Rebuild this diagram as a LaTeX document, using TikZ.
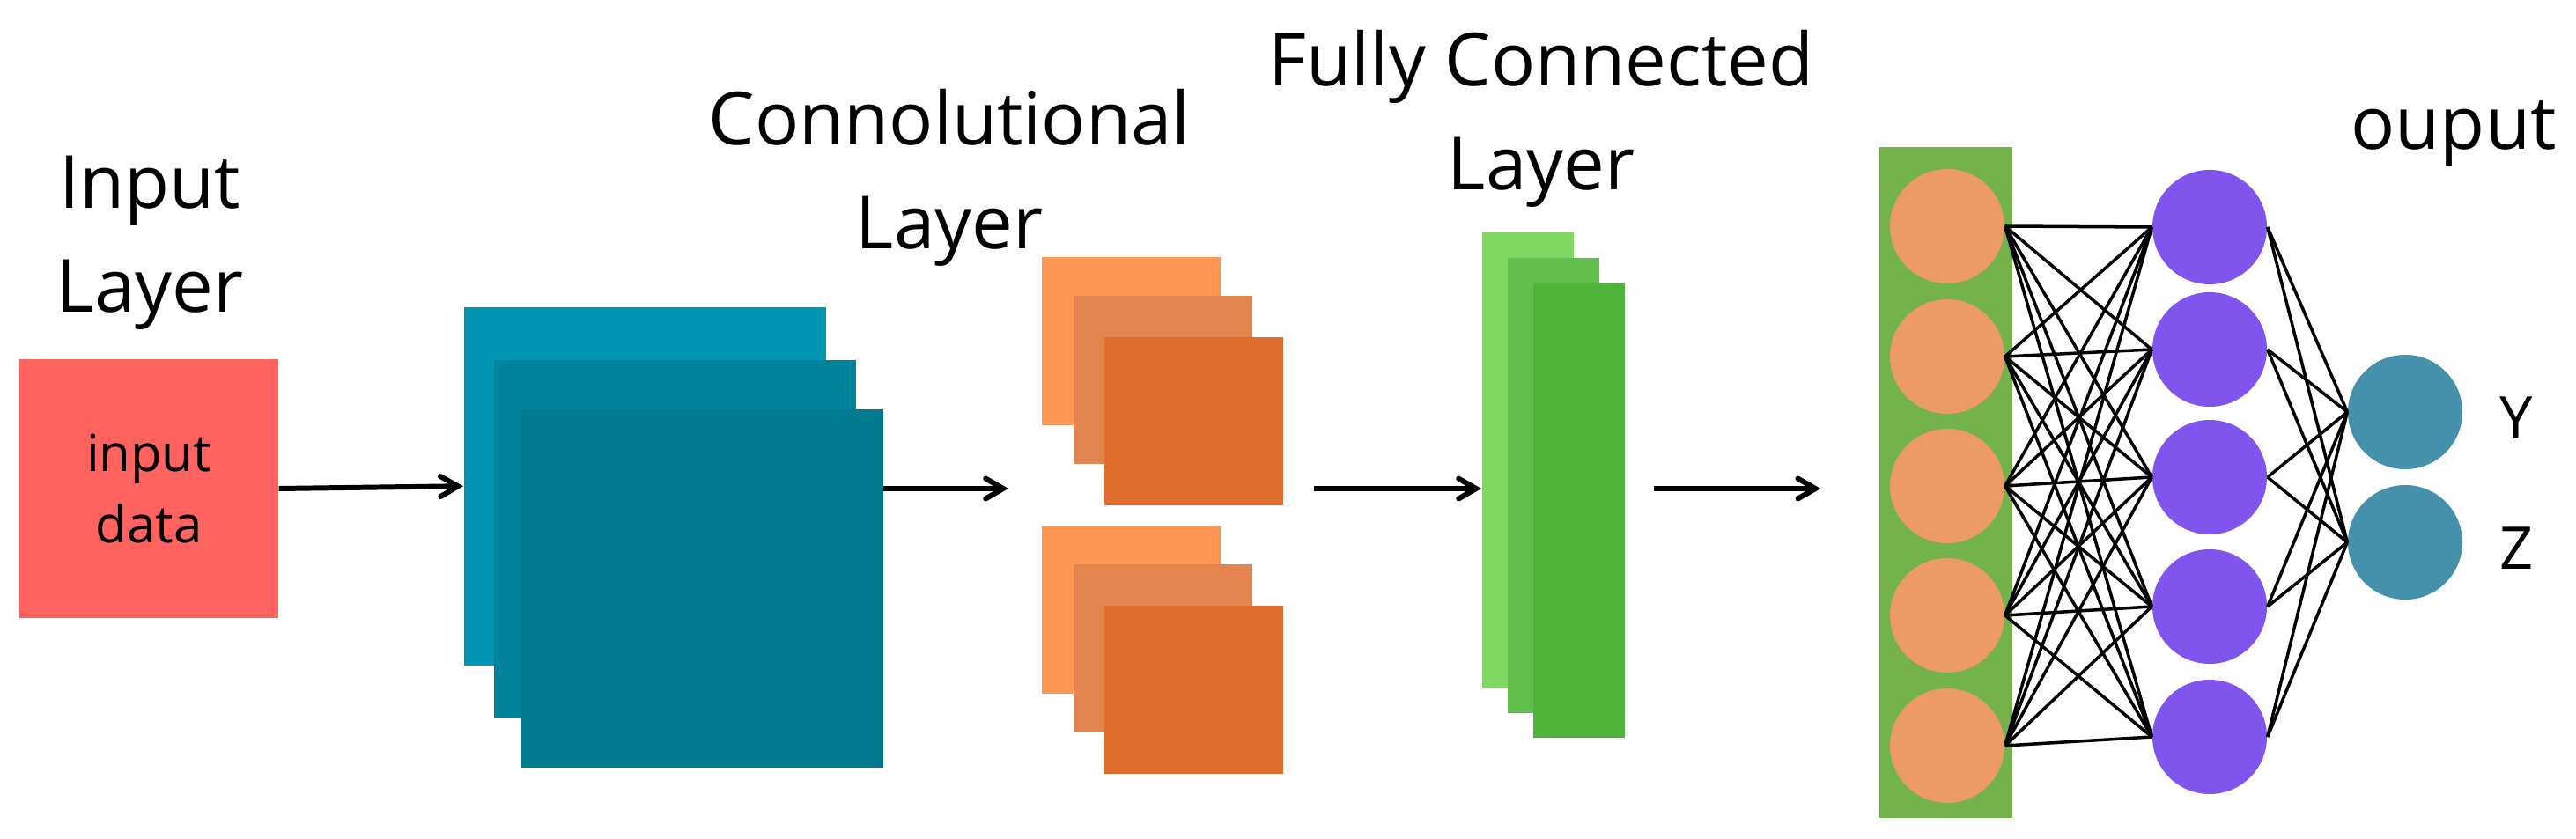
\documentclass[tikz,border=0pt]{standalone}
\usepackage{fontspec}
\setmainfont{Open Sans}
\usepackage{tikz}
\usetikzlibrary{arrows, positioning}

\definecolor{inputred}{RGB}{255,99,95}
\definecolor{blueA}{RGB}{0,150,180}
\definecolor{blueB}{RGB}{0,132,156}
\definecolor{blueC}{RGB}{2,123,145}
\definecolor{orangeA}{RGB}{255,150,84}
\definecolor{orangeB}{RGB}{228,132,78}
\definecolor{orangeC}{RGB}{222,109,46}
\definecolor{greenA}{RGB}{126,215,96}
\definecolor{greenB}{RGB}{98,191,75}
\definecolor{greenC}{RGB}{79,181,58}
\definecolor{bargreen}{RGB}{116,178,74}
\definecolor{nodeorange}{RGB}{236,155,102}
\definecolor{nodepurple}{RGB}{128,85,238}
\definecolor{nodeteal}{RGB}{69,145,171}

\begin{document}
\begin{tikzpicture}[node distance=2cm, font=\fontsize{23.7}{33.5}\selectfont]
		\tikzstyle{heading} = [align=center, inner sep=0pt]
		\tikzstyle{sheet} = [rectangle, anchor=north west, inner sep=0pt]
		\tikzstyle{conv} = [sheet, minimum width=4.11cm, minimum height=4.07cm]
		\tikzstyle{pool} = [sheet, minimum width=2.03cm, minimum height=1.91cm]
		\tikzstyle{dense} = [sheet, minimum width=1.04cm, minimum height=5.17cm]
		\tikzstyle{neuron} = [circle, minimum size=1.3cm, inner sep=0pt]
		\tikzstyle{letter} = [inner sep=0pt, font=\fontsize{19}{23}\selectfont]
		\tikzstyle{arrow} = [->,>= angle 60, line width=1.7pt]
		\tikzstyle{edge} = [line width=1pt]
		
		\useasboundingbox (0,0) rectangle (29.25,9.52);
		
		% Input layer
		\node (inp) [rectangle, fill=inputred, minimum width=2.94cm, minimum height=2.94cm, align=center, font=\fontsize{16.5}{23.2}\selectfont] at (1.69,3.97) {input\\data};
		\node (inptitle) [heading] at (1.70,6.76) {Input\\Layer};
		
		% Convolutional layer
		\node (c1) [conv, fill=blueA] at (5.26,6.04) {};
		\node (c2) [conv, fill=blueB, below right=0.60cm and 0.34cm of c1.north west] {};
		\node (c3) [conv, fill=blueC, below right=0.56cm and 0.31cm of c2.north west] {};
		\node (convtitle) [heading] at (10.78,7.50) {Connolutional\\Layer};
		
		% Pooled maps
		\node (pa1) [pool, fill=orangeA] at (11.82,6.61) {};
		\node (pa2) [pool, fill=orangeB, below right=0.44cm and 0.36cm of pa1.north west] {};
		\node (pa3) [pool, fill=orangeC, below right=0.47cm and 0.35cm of pa2.north west] {};
		\node (pb1) [pool, fill=orangeA, below=1.13cm of pa1] {};
		\node (pb2) [pool, fill=orangeB, below=1.13cm of pa2] {};
		\node (pb3) [pool, fill=orangeC, below=1.13cm of pa3] {};
		
		% Fully connected layer
		\node (f1) [dense, fill=greenA] at (16.82,6.89) {};
		\node (f2) [dense, fill=greenB, below right=0.29cm and 0.29cm of f1.north west] {};
		\node (f3) [dense, fill=greenC, below right=0.28cm and 0.29cm of f2.north west] {};
		\node (fctitle) [heading] at (17.50,8.175) {Fully Connected\\Layer};
		
		% Network
		\node (bar) [rectangle, fill=bargreen, minimum width=1.51cm, minimum height=7.62cm, inner sep=0pt] at (22.095,4.04) {};
		\foreach \y [count=\i] in {6.95,5.47,4.00,2.53,1.05}
			\node (h\i) [neuron, fill=nodeorange] at (22.11,\y) {};
		\foreach \y [count=\i] in {6.94,5.55,4.10,2.63,1.15}
			\node (p\i) [neuron, fill=nodepurple] at (25.09,\y) {};
		\node (o1) [neuron, fill=nodeteal] at (27.31,4.84) {};
		\node (o2) [neuron, fill=nodeteal] at (27.31,3.36) {};
		\node (ylab) [letter, right=0.41cm of o1, yshift=-0.07cm] {Y};
		\node (zlab) [letter, right=0.41cm of o2, yshift=-0.07cm] {Z};
		\node (outtitle) [anchor=base] at (27.86,7.82) {ouput};
		
		% Connections
		\foreach \i in {1,...,5}
			\foreach \j in {1,...,5}
				\draw [edge] (h\i.east) -- (p\j.west);
		\foreach \i in {1,...,5}
			\foreach \j in {1,2}
				\draw [edge] (p\i.east) -- (o\j.west);
		
		% Arrows
		\draw [arrow] (inp.east) -- (c1.west);
		\draw [arrow, shorten >=0.37cm] (c3.east |- inp.east) -- (pa1.west |- inp.east);
		\draw [arrow, shorten <=0.35cm] (pa3.east |- inp.east) -- (f1.west |- inp.east);
		\draw [arrow, shorten <=0.33cm, shorten >=0.66cm] (f3.east |- inp.east) -- (bar.west |- inp.east);
		
\end{tikzpicture}
\end{document}
